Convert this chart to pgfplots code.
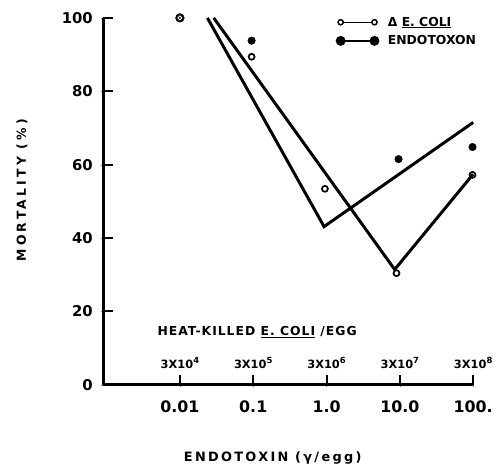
\documentclass[border=0pt]{standalone}
\usepackage{pgfplots}
\pgfplotsset{compat=1.18}
\usepackage{fontspec}
\setmainfont{DejaVu Sans}
\newfontfamily\spaced[LetterSpace=18]{DejaVu Sans}
\newfontfamily\spacedy[LetterSpace=26]{DejaVu Sans}
\newfontfamily\spacedh[LetterSpace=8]{DejaVu Sans}
\newcommand{\tx}[1]{3X10\raisebox{0.75ex}{\fontsize{8.5}{9}\selectfont #1}}

\begin{document}
\begin{tikzpicture}
\begin{axis}[
  scale only axis, width=372bp, height=369bp,
  xmode=log, xmin=0.000903, xmax=100, ymin=0, ymax=100,
  axis x line=bottom, axis y line=left,
  axis line style={-, line width=2.6bp},
  clip=false,
  xtick={0.01,0.1,1,10,100}, xticklabels={0.01,0.1,1.0,10.0,100.},
  xminorticks=false,
  ytick={0,20,...,100},
  /pgf/number format/assume math mode=true,
  xticklabel style={font=\fontsize{16}{18}\selectfont\bfseries, yshift=-10bp},
  yticklabel style={font=\fontsize{15}{18}\selectfont\bfseries, xshift=-5bp},
  legend style={draw=none, fill=none, at={(rel axis cs:0.62,1.014)}, anchor=north west,
    font=\fontsize{12.5}{14}\selectfont\bfseries, row sep=4bp},
  legend cell align=left,
]
\coordinate (O) at (rel axis cs:0,0);

% tick marks, pointing inwards
\addplot[black, line width=2bp, forget plot] coordinates {(0.01,0) (0.01,2.6)};
\addplot[black, line width=2bp, forget plot] coordinates {(0.1,0) (0.1,2.6)};
\addplot[black, line width=2bp, forget plot] coordinates {(1,0) (1,2.6)};
\addplot[black, line width=2bp, forget plot] coordinates {(10,0) (10,2.6)};
\addplot[black, line width=2bp, forget plot] coordinates {(100,0) (100,2.6)};
\addplot[black, line width=2bp, forget plot] coordinates {(0.000903,20) (0.00122,20)};
\addplot[black, line width=2bp, forget plot] coordinates {(0.000903,40) (0.00122,40)};
\addplot[black, line width=2bp, forget plot] coordinates {(0.000903,60) (0.00122,60)};
\addplot[black, line width=2bp, forget plot] coordinates {(0.000903,80) (0.00122,80)};
\addplot[black, line width=2bp, forget plot] coordinates {(0.000903,100) (0.00122,100)};

% fitted lines
\addplot[black, line width=3bp,
  legend image code/.code={
    \draw[line width=1.5bp] (0bp,0bp) -- (34bp,0bp);
    \draw[line width=1.5bp, fill=white] (0bp,0bp) circle (2.6bp) (34bp,0bp) circle (2.6bp);
    \path (44bp,0bp);}]
  coordinates {(0.0289,100) (8.5,31.4) (100,57.4)};
\addlegendentry{Δ \underline{E. COLI}}
\addplot[black, line width=3bp,
  legend image code/.code={
    \draw[line width=1.5bp] (0bp,0bp) -- (34bp,0bp);
    \fill (0bp,0bp) circle (3.4bp) (34bp,0bp) circle (3.4bp);
    \path (44bp,0bp);}]
  coordinates {(0.0237,100) (0.925,43.1) (100,71.5)};
\addlegendentry{ENDOTOXON}

% observed points
\addplot[only marks, mark=*, mark size=3.8bp, black, forget plot]
  coordinates {(0.095,93.8) (9.6,61.5) (98,64.8)};
\addplot[only marks, mark=o, mark size=3bp, line width=1.7bp, black,
  mark options={fill=white}, forget plot]
  coordinates {(0.095,89.4) (0.95,53.4) (9.0,30.4) (98,57.2)};
\addplot[only marks, mark=*, mark size=4.4bp, black, forget plot]
  coordinates {(0.01,100)};
\addplot[only marks, mark=o, mark size=2bp, line width=0.9bp, white, forget plot]
  coordinates {(0.01,100)};

% second scale: heat-killed E. coli per egg
\node[anchor=base west, font=\fontsize{12.5}{14}\selectfont\bfseries\spacedh]
  at (rel axis cs:0.137,0.133) {HEAT-KILLED \underline{E. COLI} /EGG};
\node[anchor=base, font=\fontsize{11.5}{12}\selectfont\bfseries] at (axis cs:0.01,4.5) {\tx{4}};
\node[anchor=base, font=\fontsize{11.5}{12}\selectfont\bfseries] at (axis cs:0.1,4.5) {\tx{5}};
\node[anchor=base, font=\fontsize{11.5}{12}\selectfont\bfseries] at (axis cs:1,4.5) {\tx{6}};
\node[anchor=base, font=\fontsize{11.5}{12}\selectfont\bfseries] at (axis cs:10,4.5) {\tx{7}};
\node[anchor=base, font=\fontsize{11.5}{12}\selectfont\bfseries] at (axis cs:100,4.5) {\tx{8}};

\node[rotate=90, font=\fontsize{12.5}{14}\selectfont\bfseries\spacedy]
  at (rel axis cs:-0.22,0.53) {MORTALITY (\%)};
\node[anchor=base, font=\fontsize{13}{14}\selectfont\bfseries\spaced]
  at (rel axis cs:0.458,-0.21) {ENDOTOXIN (γ/egg)};
\end{axis}
\path (O) ++(-104bp,-79bp) rectangle ++(496bp,466bp);
\end{tikzpicture}
\end{document}
